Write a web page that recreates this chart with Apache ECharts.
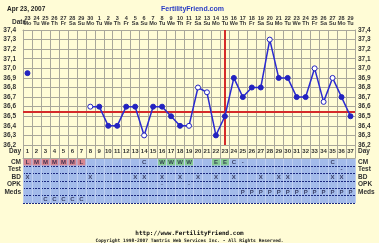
<!DOCTYPE html>
<html><head><meta charset="utf-8">
<script src="https://cdn.jsdelivr.net/npm/echarts@6/dist/echarts.min.js"></script>
<style>html,body{margin:0;padding:0;background:#fffcd6;}#c{width:379px;height:243px;}</style>
</head><body><div id="c"></div>
<script>
const days = ['1','2','3','4','5','6','7','8','9','10','11','12','13','14','15','16','17','18','19','20','21','22','23','24','25','26','27','28','29','30','31','32','33','34','35','36','37'];
const dates = ['23','24','25','26','27','28','29','30','1','2','3','4','5','6','7','8','9','10','11','12','13','14','15','16','17','18','19','20','21','22','23','24','25','26','27','28','29'];
const weekdays = ['Mo','Tu','We','Th','Fr','Sa','Su','Mo','Tu','We','Th','Fr','Sa','Su','Mo','Tu','We','Th','Fr','Sa','Su','Mo','Tu','We','Th','Fr','Sa','Su','Mo','Tu','We','Th','Fr','Sa','Su','Mo','Tu'];
const temps = [36.95,null,null,null,null,null,null,36.6,36.6,36.4,36.4,36.6,36.6,36.3,36.6,36.6,36.5,36.4,36.4,36.8,36.75,36.3,36.5,36.9,36.7,36.8,36.8,37.3,36.9,36.9,36.7,36.7,37.0,36.65,36.9,36.7,36.5];
const openDays = [8,14,19,20,21,28,33,34,35];
const coverline = 36.55;
const ovulationDay = '23';
const tempTicks = {min: 36.2, max: 37.4, step: 0.1};
const rowNames = ['CM','Test','BD','OPK','Meds',''];
const cmRow   = ['L','M','M','M','M','M','L','','','','','','','C','','W','W','W','W','','','E','E','C','-','','','','','','','','','','C','',''];
const testRow = ['','','','','','','','','','','','','','','','','','','','','','','','','','','','','','','','','','','','-',''];
const bdRow   = ['X','','','','','','','X','','','','','X','X','','X','','X','','X','','X','','X','','','X','','X','X','','','','','X','X',''];
const opkRow  = ['','','','','','','','','','','','','','','','-','','','-','','','','','','','','','','','','','','','','','',''];
const medsRow = ['','','','','','','','','','','','','','','','','','','','','','','','','P','P','P','P','P','P','P','P','P','P','P','P','P'];
const extraRow= ['','','C','C','C','C','C','','','','','','','','','','','','','','','','','','','','','','','','','','','','','',''];

const rows = [cmRow,testRow,bdRow,opkRow,medsRow,extraRow];
const cellColor = ch => (ch==='L'||ch==='M') ? '#e47a7a' : (ch==='W'||ch==='E') ? '#7fd07f' : 'transparent';
const cells = [];
rows.forEach((r,ri)=>r.forEach((ch,di)=>{ if(ch) cells.push({value:[di,ri],name:ch,itemStyle:{color: ri===0?cellColor(ch):'transparent'}}); }));

const gridCol = '#a9a79a';
const font = 'Liberation Sans';
const lab = {fontFamily:font,fontSize:6.5,fontWeight:'bold',color:'#333'};
const L=23, R=24;
const chart = echarts.init(document.getElementById('c'),null,{renderer:'canvas'});
chart.setOption({
  backgroundColor:'#fffcd6',
  animation:false,
  title:[
    {text:'Apr 23, 2007',left:2,top:1,textStyle:{fontFamily:font,fontSize:6.5,fontWeight:'bold',color:'#222'}},
    {text:'FertilityFriend.com',left:156,top:1,textStyle:{fontFamily:font,fontSize:7,fontWeight:'bold',color:'#2a3cc4'}},
    {text:'Date',left:7,top:14,textStyle:{fontFamily:font,fontSize:6.5,fontWeight:'bold',color:'#333'}},
    {text:'http://www.FertilityFriend.com',left:'center',top:225,textStyle:{fontFamily:'DejaVu Sans Mono',fontSize:6,color:'#111'}},
    {text:'Copyright 1998-2007 Tamtris Web Services Inc. - All Rights Reserved.',left:'center',top:233,textStyle:{fontFamily:'DejaVu Sans Mono',fontSize:4.6,color:'#222'}}
  ],
  grid:[
    {left:L,right:R,top:30,height:115},
    {left:L,right:R,top:145,height:13},
    {left:L,right:R,top:158.5,height:44.5,show:true,backgroundColor:'#a3bbea',borderWidth:0}
  ],
  xAxis:[
    {gridIndex:0,type:'category',data:days,position:'top',axisTick:{show:false},
     axisLine:{lineStyle:{color:gridCol,width:1}},
     axisLabel:{interval:0,margin:4,fontFamily:font,fontSize:5.5,fontWeight:'bold',color:'#333',lineHeight:5,
       formatter:(v,i)=>dates[i]+'\n'+weekdays[i]},
     splitLine:{show:true,interval:0,lineStyle:{color:gridCol,width:1}}},
    {gridIndex:1,type:'category',data:days,position:'bottom',axisTick:{show:false},
     axisLine:{lineStyle:{color:gridCol}},
     axisLabel:{interval:0,margin:-10,...lab,fontSize:6},
     splitLine:{show:true,interval:0,lineStyle:{color:gridCol,width:1}}},
    {gridIndex:2,type:'category',data:days,axisTick:{show:false},axisLabel:{show:false},
     axisLine:{show:false},
     splitLine:{show:true,interval:0,lineStyle:{color:'#bccdf0',width:1}}}
  ],
  yAxis:[
    {gridIndex:0,type:'value',min:tempTicks.min,max:tempTicks.max,interval:tempTicks.step,position:'left',
     axisLine:{show:true,lineStyle:{color:gridCol}},axisTick:{show:false},
     axisLabel:{margin:7,...lab,formatter:v=>v.toFixed(1).replace('.',',')},
     splitLine:{show:true,lineStyle:{color:gridCol,width:1}}},
    {gridIndex:0,type:'value',min:tempTicks.min,max:tempTicks.max,interval:tempTicks.step,position:'right',
     axisLine:{show:true,lineStyle:{color:gridCol}},axisTick:{show:false},
     axisLabel:{margin:3,...lab,formatter:v=>v.toFixed(1).replace('.',',')},
     splitLine:{show:false}},
    {gridIndex:1,type:'category',data:['Day'],position:'left',axisTick:{show:false},
     axisLine:{show:true,lineStyle:{color:gridCol}},axisLabel:{margin:2,...lab}},
    {gridIndex:1,type:'category',data:['Day'],position:'right',axisTick:{show:false},
     axisLine:{show:true,lineStyle:{color:gridCol}},axisLabel:{margin:3,...lab}},
    {gridIndex:2,type:'category',data:rowNames,inverse:true,position:'left',axisTick:{show:false},
     axisLine:{show:false},axisLabel:{interval:0,hideOverlap:false,margin:2,...lab},
     splitLine:{show:true,interval:0,lineStyle:{color:'#1d2a80',width:1,type:[2,1]}}},
    {gridIndex:2,type:'category',data:rowNames,inverse:true,position:'right',axisTick:{show:false},
     axisLine:{show:false},axisLabel:{interval:0,hideOverlap:false,margin:3,...lab}}
  ],
  series:[
    {type:'line',xAxisIndex:0,yAxisIndex:0,connectNulls:false,symbol:'circle',symbolSize:5,
     lineStyle:{color:'#2a2ad0',width:1.5},
     itemStyle:{color:'#2323c0',borderColor:'#2323c0',borderWidth:1},
     data:temps.map((t,i)=> openDays.includes(i+1) ? {value:t,itemStyle:{color:'#ffffff',borderColor:'#2323c0',borderWidth:1}} : t),
     markLine:{silent:true,symbol:'none',label:{show:false},
       lineStyle:{color:'#d42a2a',width:2,type:'solid'},
       data:[{yAxis:coverline},{xAxis:ovulationDay}]},
     z:5},
    {type:'scatter',xAxisIndex:2,yAxisIndex:4,symbol:'rect',symbolSize:[8,6.4],
     data:cells,
     label:{show:true,position:'inside',formatter:p=>p.name,fontFamily:font,fontSize:6,fontWeight:'bold',color:'#1a1a40'}}
  ]
});
</script></body></html>
